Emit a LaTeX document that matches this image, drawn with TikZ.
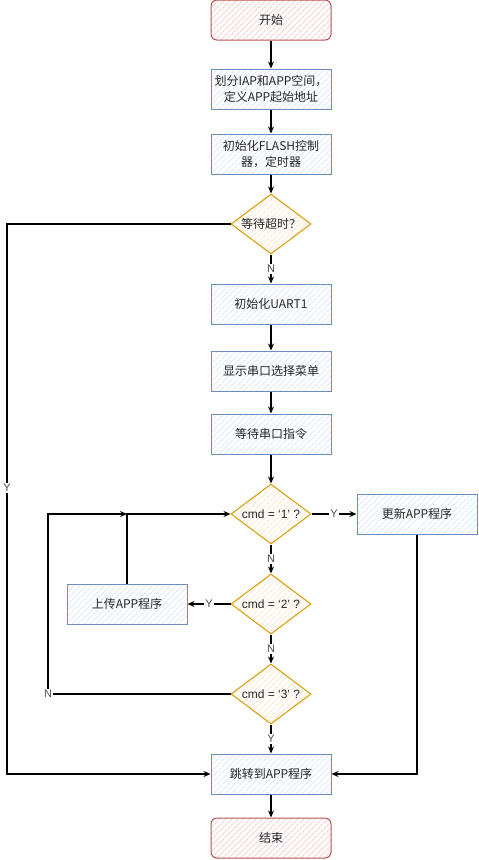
\documentclass[tikz,border=0pt]{standalone}
\usepackage{fontspec}
\setmainfont{Noto Sans CJK SC}
\newfontfamily\latinfont{Liberation Sans}
\usetikzlibrary{arrows.meta,shapes.geometric,patterns.meta}

\definecolor{termfill}{HTML}{F8CECC}
\definecolor{termline}{HTML}{B85450}
\definecolor{procfill}{HTML}{DAE8FC}
\definecolor{procline}{HTML}{6C8EBF}
\definecolor{askfill}{HTML}{FFE6CC}
\definecolor{askline}{HTML}{D79B00}
\definecolor{lbltext}{HTML}{4D4D4D}

\tikzset{
  hatch/.style={pattern={Lines[angle=45,distance=4pt,line width=1.1pt]}},
  term/.style={draw=termline,hatch,pattern color=termfill,rounded corners=6pt,
    line width=1pt,minimum width=120pt,minimum height=40pt,align=center},
  proc/.style={draw=procline,hatch,pattern color=procfill,
    line width=1pt,minimum width=120pt,minimum height=40pt,align=center},
  ask/.style={draw=askline,hatch,pattern color=askfill,diamond,aspect=1.333,
    inner sep=0pt,line width=1pt,minimum width=80pt,minimum height=60pt},
  flow/.style={line width=1.2pt,-{Stealth[open,length=7pt,width=6pt]}},
  lbl/.style={fill=white,text=lbltext,inner sep=1pt,font=\latinfont\fontsize{11}{13}\selectfont}
}

\begin{document}
\begin{tikzpicture}[x=1pt,y=-1pt,font=\fontsize{12}{16}\selectfont,text=black!85]
\useasboundingbox (0,0) rectangle (479,860);

\node[term] (start) at (271,20) {开始};
\node[proc] (split) at (271,89) {划分IAP和APP空间，\\定义APP起始地址};
\node[proc] (flash) at (271,154) {初始化FLASH控制\\器，定时器};
\node[ask] (timeout) at (271,224) {等待超时？};
\node[proc] (uart) at (271,304) {初始化UART1};
\node[proc] (menu) at (271,371) {显示串口选择菜单};
\node[proc] (wait) at (271,434) {等待串口指令};
\node[ask] (cmd1) at (271,514) {\latinfont cmd = ‘1’ ?};
\node[proc] (update) at (417,514) {更新APP程序};
\node[ask] (cmd2) at (271,604) {\latinfont cmd = ‘2’ ?};
\node[proc] (upload) at (127,604) {上传APP程序};
\node[ask] (cmd3) at (271,694) {\latinfont cmd = ‘3’ ?};
\node[proc] (jump) at (271,774) {跳转到APP程序};
\node[term] (stop) at (271,838) {结束};
\coordinate (loopend) at (upload.north |- cmd1.west);

\draw[flow] (start) -- (split);
\draw[flow] (split) -- (flash);
\draw[flow] (flash) -- (timeout);
\draw[flow] (timeout) -- node[lbl]{N} (uart);
\draw[flow] (uart) -- (menu);
\draw[flow] (menu) -- (wait);
\draw[flow] (wait) -- (cmd1);
\draw[flow] (cmd1) -- node[lbl]{Y} (update);
\draw[flow] (cmd1) -- node[lbl]{N} (cmd2);
\draw[flow] (cmd2) -- node[lbl]{Y} (upload);
\draw[flow] (cmd2) -- node[lbl]{N} (cmd3);
\draw[flow] (cmd3) -- node[lbl]{Y} (jump);
\draw[flow] (jump) -- (stop);
\draw[flow] (upload) |- (cmd1);
\draw[flow] (cmd3) -- (48,694) node[lbl]{N} |- (loopend);
\draw[flow] (timeout) -- (7,224) -- node[lbl,pos=.48]{Y} (7,774) -- (jump);
\draw[flow] (update) |- (jump);
\end{tikzpicture}
\end{document}
